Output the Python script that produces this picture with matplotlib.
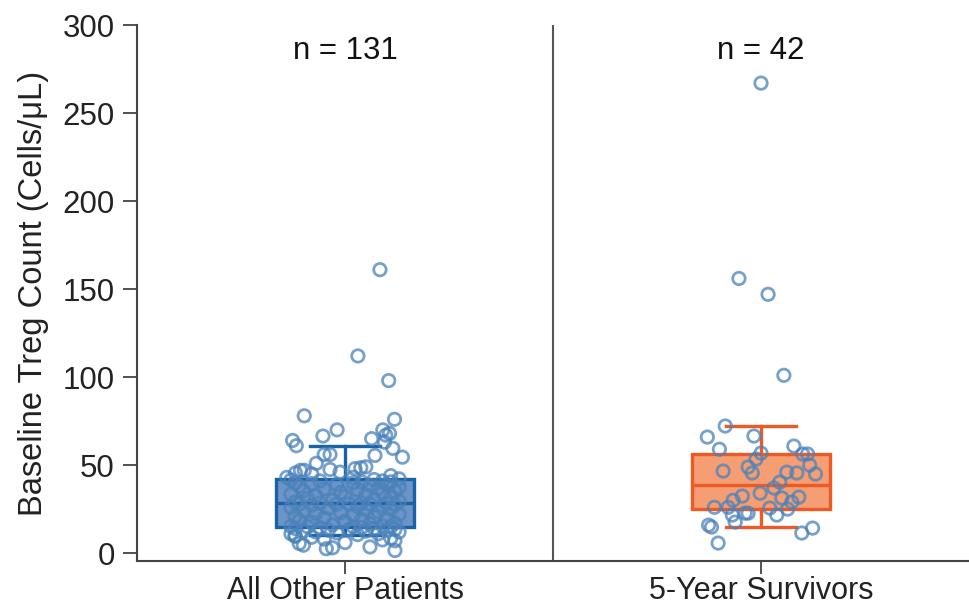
## Box plot with jittered points: baseline Treg counts, other patients vs 5-year survivors
import matplotlib
matplotlib.use("Agg")
import matplotlib.pyplot as plt

plt.rcParams['font.family'] = ['Liberation Sans', 'DejaVu Sans']

groups = ["All Other Patients", "5-Year Survivors"]
counts = ["n = 131", "n = 42"]

# values (cells/uL), with the horizontal jitter of each point
other_vals = [1.5, 2.5, 3, 3.5, 4.5, 5.5, 6, 7, 7.5, 8, 8.5, 9, 9.5,
              10,
              10.5, 11, 11, 11.5, 12, 12, 12.5, 12.5, 13, 13, 13.5, 13.5, 14, 14, 14.5, 14.5, 14.8, 15, 15,
              15.2, 15.5, 16, 16.5, 17, 17.5, 18, 18.5, 19, 19.5, 20, 20.5, 21, 21.5, 22, 22.5, 23,
              23.5, 24, 24.5, 25, 25.5, 26, 26.5, 27, 27.2, 27.5, 27.7, 27.8, 27.9, 28, 28.2, 28.4,
              28.6, 29, 29.5, 30, 30.5, 31, 31.5, 32, 32.5, 33, 33.5, 34, 34.5, 35, 35.5, 36, 36.5,
              37, 37.5, 38, 38.5, 39, 39, 39.5, 40, 40, 40.5, 40.5, 41, 41, 41.5, 41.8,
              42.2, 43, 43, 44, 45, 45.5, 46, 47, 47, 47.5, 48, 48.5, 49, 51, 54.5, 55.5, 56, 56, 59.5,
              61,
              63, 64, 65, 66.5, 67, 68, 70, 70, 76, 78, 98, 112, 161]
other_jit = [0.12, -0.045, -0.03, 0.06, -0.10, -0.11, 0.0, 0.12, 0.09, -0.05, 0.11, -0.08, -0.12,
             -0.12,
             0.03, -0.13, 0.08, -0.02, 0.13, -0.07, 0.05, -0.10, 0.10, -0.04, 0.01, 0.12, -0.12, 0.07, -0.06, 0.04, 0.11, -0.09, 0.02,
             -0.13, 0.09, -0.03, 0.06, 0.12, -0.08, 0.0, -0.11, 0.04, 0.10, -0.05, 0.07, -0.12, 0.02, 0.13, -0.07, -0.01,
             0.08, -0.10, 0.05, 0.11, -0.04, -0.13, 0.03, 0.09, -0.08, 0.12, -0.02, 0.06, -0.11, 0.01, 0.10, -0.06,
             0.04, -0.12, 0.13, -0.03, 0.07, -0.09, 0.11, 0.0, -0.07, 0.05, -0.13, 0.09, -0.01, 0.12, -0.10, 0.03,
             -0.05, 0.08, 0.13, -0.11, 0.06, -0.02, 0.10, -0.08, 0.02, -0.12, 0.11, 0.04, -0.06, 0.09, -0.13, 0.07,
             0.13, -0.14, 0.02, 0.11, -0.08, -0.119, -0.012, -0.107, -0.098, -0.036, 0.024, 0.038, 0.05, -0.069, 0.138, 0.072, -0.05, -0.036, 0.115,
             -0.117,
             0.095, -0.126, 0.064, -0.053, 0.098, 0.107, -0.019, 0.091, 0.119, -0.098, 0.105, 0.031, 0.084]

surv_vals = [5.7, 11.4, 14.2, 14.8, 15.9, 17.6, 21.6, 21.6, 22.7, 22.7, 25, 25.6, 26, 26,
             29, 30, 31.3, 31.8, 32.4, 34, 37, 40.3, 44.9, 45.5, 45.5, 46, 46.6, 48.9, 50,
             53.4, 56.3, 56.3, 56.8, 59, 60.8, 65.9, 66.5, 72.2, 101, 147, 156, 267]
surv_jit = [-0.103, 0.098, 0.124, -0.119, -0.126, -0.062, -0.069, 0.038, -0.038, -0.031, 0.064, 0.021, -0.079, -0.112,
            0.074, -0.067, 0.05, 0.091, -0.045, -0.002, 0.031, 0.045, 0.131, -0.021, 0.086, 0.062, -0.091, -0.031, 0.117,
            -0.012, 0.1, 0.112, 0.0, -0.1, 0.079, -0.129, -0.017, -0.086, 0.055, 0.017, -0.053, 0.0]

# whisker percentiles per group (so caps land where the reference draws them)
whisker_pct = [(10, 90), (7, 91)]

box_face = ["#6d94c7", "#f59e74"]
box_edge = ["#1a62a6", "#ee5a24"]
point_col = "#4a82ba"

fig = plt.figure(figsize=(9.69, 6.10), dpi=100)
ax = fig.add_axes([0.1414, 0.0803, 0.8586, 0.8787])

data = [other_vals, surv_vals]
jits = [other_jit, surv_jit]
for i in range(2):
    bp = ax.boxplot(data[i], positions=[i], widths=0.333, whis=whisker_pct[i], showfliers=False,
                    patch_artist=True, zorder=2)
    for b in bp['boxes']:
        b.set(facecolor=box_face[i], edgecolor=box_edge[i], linewidth=2.4)
    for key in ['whiskers', 'caps', 'medians']:
        for ln in bp[key]:
            ln.set(color=box_edge[i], linewidth=2.4)
    xs = [i + j for j in jits[i]]
    ax.scatter(xs, data[i], s=80, facecolors='none', edgecolors=point_col,
               linewidths=2.0, alpha=0.75, zorder=3)
    ax.text(i, 285, counts[i], ha='center', va='center', fontsize=22.5, color='#111111')

ax.axvline(0.5, color='#555555', linewidth=1.5)

ax.set_xlim(-0.5, 1.5)
ax.set_ylim(-4.5, 300)
ax.set_yticks([0, 50, 100, 150, 200, 250, 300])
ax.set_xticks([0, 1])
ax.set_xticklabels(groups)
ax.set_ylabel("Baseline Treg Count (Cells/\u03bcL)", fontsize=23.5, color='#222222', labelpad=10)

for side in ['top', 'right']:
    ax.spines[side].set_visible(False)
for side in ['left', 'bottom']:
    ax.spines[side].set_color('#444444')
    ax.spines[side].set_linewidth(1.5)
ax.tick_params(axis='y', length=10, width=1.3, color='#444444', labelsize=22.5, labelcolor='#222222', pad=6)
ax.tick_params(axis='x', length=9, width=1.3, color='#444444', labelsize=22, labelcolor='#222222', pad=2)

fig.savefig("out.png", dpi=100)
